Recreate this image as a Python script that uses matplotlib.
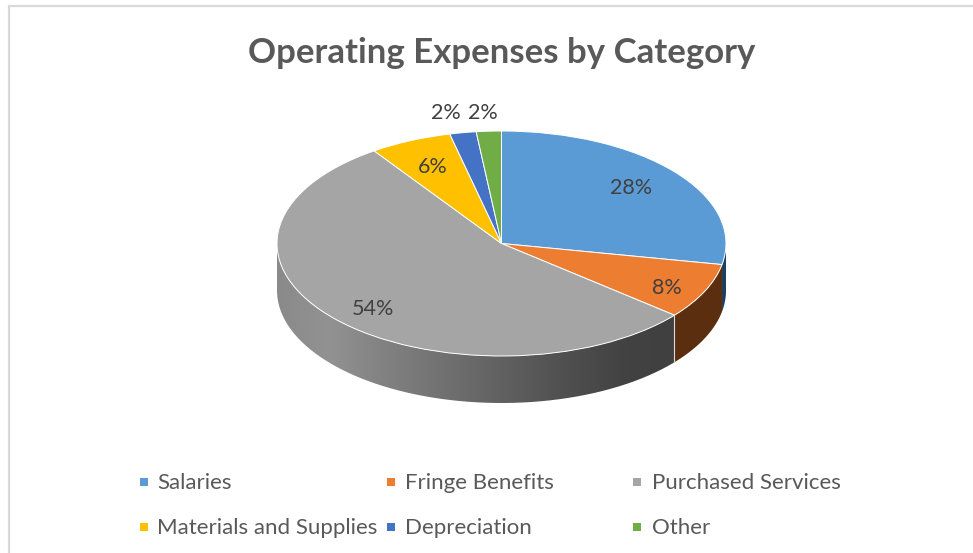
import matplotlib
matplotlib.use("Agg")
import matplotlib.pyplot as plt
from matplotlib.colors import LinearSegmentedColormap
from matplotlib.patches import PathPatch, Polygon
from matplotlib.path import Path
import numpy as np

title = "Operating Expenses by Category"
categories = ["Salaries", "Fringe Benefits", "Purchased Services",
              "Materials and Supplies", "Depreciation", "Other"]
values = [28, 8, 54.4, 5.9, 1.9, 1.8]
colors = ["#5B9BD5", "#ED7D31", "#A5A5A5", "#FFC000", "#4472C4", "#70AD47"]
side_colors = {0: "#1D3F5E", 1: "#5C2E10"}

W, H = 973, 553
CX, CY, RX, RY, DEPTH = 501.5, 243.5, 224.5, 112.5, 47
# where the percent labels sit, in pixels
label_xy = [(631, 188), (667, 288), (373, 309), (433, 167), (446, 113), (483, 113)]

plt.rcParams["font.family"] = ["Lato", "DejaVu Sans"]


def rim(a0, a1):
    # side wall between two angles (degrees), in squashed pie units
    t = np.radians(np.linspace(a0, a1, 120))
    x, y = np.cos(t), np.sin(t)
    d = DEPTH / RY
    return np.r_[np.c_[x, y], np.c_[x, y - d][::-1]]


def main():
    fig = plt.figure(figsize=(W / 100, H / 100), dpi=100)
    bg = fig.add_axes([0, 0, 1, 1])
    bg.set_xlim(0, W)
    bg.set_ylim(H, 0)
    bg.axis("off")

    # frame, only top and left show in the crop
    bg.plot([W, 9, 9], [6, 6, H], color="#D9D9D9", lw=1.6, solid_joinstyle="miter")
    bg.text(502, 53, title, ha="center", va="center", fontsize=25,
            fontweight="bold", color="#595959")

    # legend laid out by hand, the columns are equal width in the original
    box_x = [144, 391, 637]
    text_x = [157, 405, 652]
    row_y = [482, 527]
    for i, name in enumerate(categories):
        col, y = i % 3, row_y[i // 3]
        bg.scatter([box_x[col]], [y], marker="s", s=30, color=colors[i], linewidths=0)
        bg.text(text_x[col], y + 1, name, ha="left", va="center", fontsize=16,
                color="#595959")

    # pie axes: one data unit is RX across and RY down
    ax = fig.add_axes([(CX - RX) / W, 1 - (CY + 1.6 * RY) / H,
                       2 * RX / W, 2.6 * RY / H])
    ax.patch.set_alpha(0)
    ax.pie(values, colors=colors, startangle=90, counterclock=False,
           wedgeprops={"edgecolor": "white", "linewidth": 0.7})
    ax.set_aspect("auto")

    edges = 90 - 3.6 * np.cumsum([0] + values)

    # walls that face the viewer
    for i in side_colors:
        a0 = max(edges[i + 1], -180)
        a1 = min(edges[i], 0)
        ax.add_patch(Polygon(rim(a0, a1), closed=True, facecolor=side_colors[i],
                             edgecolor="none", zorder=0))

    shade = LinearSegmentedColormap.from_list("side", [
        (0.0, "#8A8A8A"), (0.13, "#929292"), (0.3, "#7E7E7E"), (0.5, "#686868"),
        (0.72, "#505050"), (0.88, "#424242"), (1.0, "#404040")])
    x_end = np.cos(np.radians(edges[2]))
    im = ax.imshow(np.linspace(0, 1, 256)[None, :], cmap=shade, aspect="auto",
                   extent=(-1, x_end, -1.6, 0), zorder=0, vmin=0, vmax=1)
    wall = rim(-180, edges[2])
    clip = PathPatch(Path(np.r_[wall, wall[:1]]), transform=ax.transData,
                     facecolor="none", edgecolor="none")
    ax.add_patch(clip)
    im.set_clip_path(clip)

    # thin light seam where grey meets orange on the wall
    seam = np.radians(edges[2])
    ax.plot([np.cos(seam)] * 2, [np.sin(seam), np.sin(seam) - DEPTH / RY],
            color="#D9D9D9", lw=0.8, zorder=1)

    ax.set_xlim(-1, 1)
    ax.set_ylim(-1.6, 1)
    ax.axis("off")

    # labels go on top of the pie, so they need an axes drawn after it
    top = fig.add_axes([0, 0, 1, 1])
    top.set_xlim(0, W)
    top.set_ylim(H, 0)
    top.axis("off")
    for v, (x, y) in zip(values, label_xy):
        top.text(x, y, f"{v:.0f}%", ha="center", va="center", fontsize=15.5,
                 color="#404040")

    fig.savefig("out.png", dpi=100)


if __name__ == "__main__":
    main()
